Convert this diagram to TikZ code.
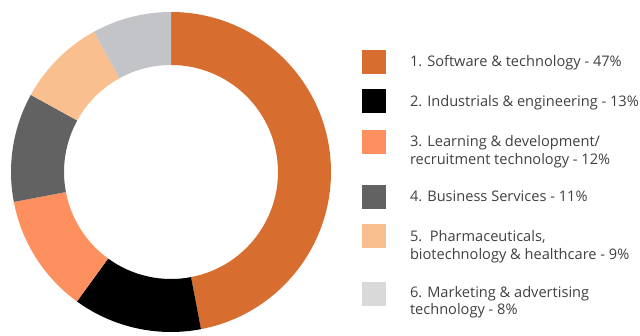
\documentclass[tikz,border=0pt]{standalone}
\usepackage{fontspec}
\setmainfont{Open Sans}
\definecolor{segA}{HTML}{D76D2F}
\definecolor{segB}{HTML}{000000}
\definecolor{segC}{HTML}{FE905F}
\definecolor{segD}{HTML}{626262}
\definecolor{segE}{HTML}{F9BF8E}
\definecolor{segF}{HTML}{C3C4C7}
\definecolor{legF}{HTML}{D9D9D9}
\definecolor{txt}{HTML}{404040}
\tikzset{
  legbox/.style={minimum width=24pt, minimum height=24pt, inner sep=0pt, outer sep=0pt},
  legtxt/.style={anchor=base west, inner sep=0pt, outer sep=0pt, text=txt, font=\fontsize{14.6}{17.7}\selectfont},
}
\begin{document}
\begin{tikzpicture}[x=1pt,y=1pt]
\useasboundingbox (0,0) rectangle (640,336);
\coordinate (ctr) at (171,164);
\begin{scope}[shift={(ctr)}]
\fill[segA] (90:160pt) arc[start angle=90, end angle=-79.2, radius=160pt] -- (-79.2:107pt) arc[start angle=-79.2, end angle=90, radius=107pt] -- cycle;
\fill[segB] (-79.2:160pt) arc[start angle=-79.2, end angle=-126, radius=160pt] -- (-126:107pt) arc[start angle=-126, end angle=-79.2, radius=107pt] -- cycle;
\fill[segC] (-126:160pt) arc[start angle=-126, end angle=-169.2, radius=160pt] -- (-169.2:107pt) arc[start angle=-169.2, end angle=-126, radius=107pt] -- cycle;
\fill[segD] (-169.2:160pt) arc[start angle=-169.2, end angle=-208.8, radius=160pt] -- (-208.8:107pt) arc[start angle=-208.8, end angle=-169.2, radius=107pt] -- cycle;
\fill[segE] (-208.8:160pt) arc[start angle=-208.8, end angle=-241.2, radius=160pt] -- (-241.2:107pt) arc[start angle=-241.2, end angle=-208.8, radius=107pt] -- cycle;
\fill[segF] (-241.2:160pt) arc[start angle=-241.2, end angle=-270, radius=160pt] -- (-270:107pt) arc[start angle=-270, end angle=-241.2, radius=107pt] -- cycle;
\end{scope}
% legend
\node[legbox, fill=segA] (s1) at (374,274) {};
\node[legbox, fill=segB] (s2) at (374,234.5) {};
\node[legbox, fill=segC] (s3) at (374,194) {};
\node[legbox, fill=segD] (s4) at (374,139) {};
\node[legbox, fill=segE] (s5) at (374,99.5) {};
\node[legbox, fill=legF] (s6) at (374,42) {};
\node[legtxt] (t1) at (410,269) {1. Software \& technology - 47\%};
\node[legtxt] (t2) at (410,229.5) {2. Industrials \& engineering - 13\%};
\node[legtxt] (t3a) at (410,189) {3. Learning \& development/};
\node[legtxt] (t3b) at (410,171.5) {recruitment technology - 12\%};
\node[legtxt] (t4) at (410,134) {4. Business Services - 11\%};
\node[legtxt] (t5a) at (410,94.3) {5.\ \ Pharmaceuticals,};
\node[legtxt] (t5b) at (410,76.7) {biotechnology \& healthcare - 9\%};
\node[legtxt] (t6a) at (410,38.7) {6. Marketing \& advertising};
\node[legtxt] (t6b) at (410,21) {technology - 8\%};
\end{tikzpicture}
\end{document}
